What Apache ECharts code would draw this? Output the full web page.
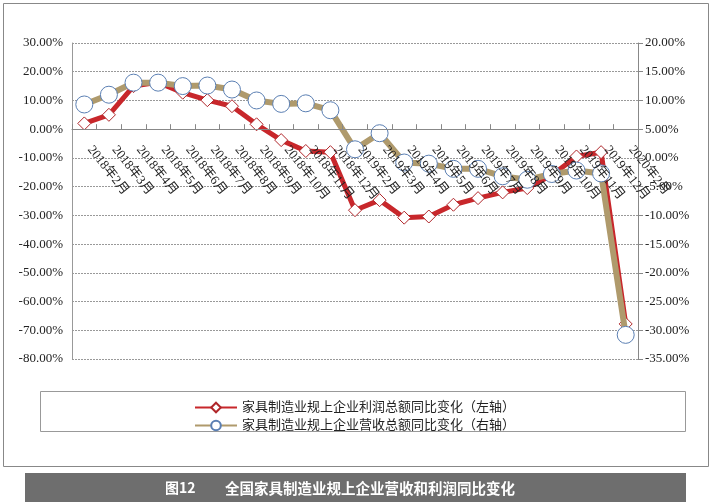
<!DOCTYPE html>
<html>
<head>
<meta charset="utf-8">
<script src="https://cdn.jsdelivr.net/npm/echarts@6/dist/echarts.min.js"></script>
<style>
html,body{margin:0;padding:0;background:#fff;}
#c{width:712px;height:504px;}
</style>
</head>
<body>
<div id="c"></div>
<script>
const categories = ['2018年2月','2018年3月','2018年4月','2018年5月','2018年6月','2018年7月','2018年8月','2018年9月','2018年10月','2018年11月','2018年12月','2019年2月','2019年3月','2019年4月','2019年5月','2019年6月','2019年7月','2019年8月','2019年9月','2019年10月','2019年11月','2019年12月','2020年2月'];
const profitYoY = [2.0, 5.0, 15.0, 16.3, 12.7, 10.1, 8.0, 1.7, -3.8, -7.6, -8.0, -28.2, -24.7, -30.8, -30.4, -26.3, -24.0, -22.0, -20.5, -16.0, -9.5, -8.0, -67.8];
const revenueYoY = [9.3, 11.0, 13.1, 13.1, 12.5, 12.6, 11.9, 10.0, 9.4, 9.5, 8.3, 1.5, 4.3, -0.8, -1.0, -1.9, -1.9, -3.2, -3.8, -2.8, -2.2, -2.7, -30.8];
const leftTicks = {min: -80, max: 30, interval: 10};
const rightTicks = {min: -35, max: 20, interval: 5};
const seriesNames = ['家具制造业规上企业利润总额同比变化（左轴）', '家具制造业规上企业营收总额同比变化（右轴）'];
const chartTitleNo = '图12';
const chartTitle = '全国家具制造业规上企业营收和利润同比变化';

const serif = '"Liberation Serif", "Noto Sans CJK SC", serif';
const gridTop = 43, gridBottom = 145, H = 504;
const gridH = H - gridTop - gridBottom;
// place category axis at value 0 of the left axis
const zeroOffset = -gridH * (0 - leftTicks.min) / (leftTicks.max - leftTicks.min);

const chart = echarts.init(document.getElementById('c'));
chart.setOption({
  animation: false,
  backgroundColor: '#fff',
  grid: {left: 72, right: 74, top: gridTop, bottom: gridBottom, containLabel: false},
  legend: {
    orient: 'vertical', left: 189, top: 396, itemGap: 5,
    itemWidth: 42, itemHeight: 12,
    textStyle: {fontFamily: serif, fontSize: 13, color: '#222'},
    data: seriesNames
  },
  xAxis: {
    type: 'category', data: categories, boundaryGap: true,
    position: 'bottom', offset: zeroOffset, z: 10,
    axisLine: {onZero: false, lineStyle: {color: '#888', width: 1}},
    axisTick: {show: true, inside: true, length: 5, lineStyle: {color: '#888'}},
    axisLabel: {interval: 0, rotate: -52, margin: 11, padding: [0, 0, 0, 9], fontFamily: serif, fontSize: 13, color: '#222', hideOverlap: false},
    splitLine: {show: false}
  },
  yAxis: [{
    type: 'value', min: leftTicks.min, max: leftTicks.max, interval: leftTicks.interval, position: 'left',
    axisLine: {show: true, lineStyle: {color: '#999'}},
    axisTick: {show: false},
    axisLabel: {formatter: v => v.toFixed(2) + '%', fontFamily: serif, fontSize: 13, color: '#222', margin: 9},
    splitLine: {show: true, lineStyle: {color: '#999', type: [2, 1], width: 1}}
  }, {
    type: 'value', min: rightTicks.min, max: rightTicks.max, interval: rightTicks.interval, position: 'right',
    axisLine: {show: true, lineStyle: {color: '#888'}},
    axisTick: {show: true, inside: false, length: 5, lineStyle: {color: '#888'}},
    axisLabel: {formatter: v => v.toFixed(2) + '%', fontFamily: serif, fontSize: 13, color: '#222', margin: 7},
    splitLine: {show: false}
  }],
  series: [{
    name: seriesNames[0], type: 'line', yAxisIndex: 0, data: profitYoY,
    symbol: 'diamond', symbolSize: 13,
    lineStyle: {color: '#C8272B', width: 5},
    itemStyle: {color: '#fff', borderColor: '#B0262A', borderWidth: 1},
    z: 2
  }, {
    name: seriesNames[1], type: 'line', yAxisIndex: 1, data: revenueYoY,
    symbol: 'circle', symbolSize: 17,
    lineStyle: {color: '#AF9A6C', width: 6},
    itemStyle: {color: '#fff', borderColor: '#5B7FB3', borderWidth: 1},
    z: 3
  }],
  graphic: [
    {type: 'rect', shape: {x: 3.5, y: 3.5, width: 705, height: 463}, style: {fill: 'none', stroke: '#888', lineWidth: 1}, z: -10},
    {type: 'rect', shape: {x: 40.5, y: 391.5, width: 645, height: 40}, style: {fill: 'none', stroke: '#999', lineWidth: 1}, z: -5},
    {type: 'rect', shape: {x: 25, y: 473, width: 661, height: 29}, style: {fill: '#6E6E6E'}},
    {type: 'text', x: 165, y: 488, style: {text: chartTitleNo, fill: '#fff', font: 'bold 14px "Noto Sans CJK SC", sans-serif', verticalAlign: 'middle'}},
    {type: 'text', x: 225, y: 488, style: {text: chartTitle, fill: '#fff', font: 'bold 14.5px "Noto Sans CJK SC", sans-serif', verticalAlign: 'middle'}}
  ]
});
</script>
</body>
</html>
